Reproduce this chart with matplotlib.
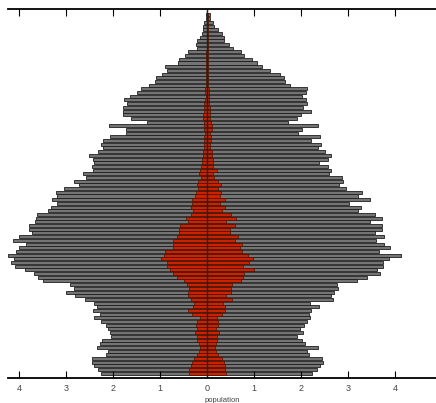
import numpy as np
import matplotlib
matplotlib.use('Agg')
import matplotlib.pyplot as plt

# values listed from the top bar (oldest) down to the bottom bar (age 0)
ages = np.arange(97, -1, -1)

male_total = [
    0.02, 0.03, 0.06, 0.08, 0.10, 0.12, 0.16, 0.21, 0.23, 0.22,
    0.40, 0.47, 0.60, 0.63, 0.89, 0.86, 0.96, 1.09, 1.12, 1.23,
    1.41, 1.49, 1.64, 1.78, 1.70, 1.79, 1.80, 1.80, 1.62, 1.28,
    2.08, 1.72, 1.72, 2.06, 2.21, 2.26, 2.21, 2.32, 2.52, 2.44,
    2.40, 2.45, 2.43, 2.65, 2.59, 2.83, 2.73, 3.04, 3.22, 3.19,
    3.30, 3.20, 3.33, 3.39, 3.63, 3.64, 3.67, 3.80, 3.80, 3.72,
    4.01, 4.14, 3.85, 4.00, 4.06, 4.23, 4.12, 4.18, 4.10, 3.88,
    3.69, 3.60, 3.49, 2.91, 2.83, 3.01, 2.81, 2.61, 2.40, 2.35,
    2.44, 2.28, 2.42, 2.25, 2.15, 2.11, 2.06, 2.05, 2.24, 2.28,
    2.35, 2.12, 2.16, 2.46, 2.46, 2.40, 2.33, 2.26,
]

female_total = [
    0.06, 0.06, 0.12, 0.15, 0.24, 0.31, 0.36, 0.36, 0.47, 0.55,
    0.72, 0.79, 0.96, 1.06, 1.16, 1.33, 1.55, 1.64, 1.65, 1.77,
    2.13, 2.11, 2.02, 2.11, 2.13, 2.03, 2.21, 1.99, 1.92, 1.71,
    2.35, 2.01, 1.94, 2.40, 2.22, 2.43, 2.35, 2.50, 2.63, 2.57,
    2.38, 2.57, 2.63, 2.60, 2.87, 2.89, 2.81, 2.96, 3.30, 3.20,
    3.47, 3.01, 3.27, 3.21, 3.58, 3.71, 3.47, 3.71, 3.73, 3.57,
    3.77, 3.59, 3.77, 3.89, 3.65, 4.12, 3.87, 3.75, 3.74, 3.62,
    3.67, 3.40, 3.18, 2.77, 2.79, 2.70, 2.63, 2.67, 2.18, 2.38,
    2.21, 2.16, 2.19, 2.13, 2.06, 1.98, 2.03, 1.91, 2.01, 2.08,
    2.35, 2.12, 2.16, 2.45, 2.47, 2.40, 2.33, 2.24,
]

male_sub = [
    0.01, 0.01, 0.01, 0.01, 0.01, 0.01, 0.01, 0.01, 0.01, 0.01,
    0.03, 0.02, 0.02, 0.02, 0.03, 0.03, 0.02, 0.03, 0.02, 0.03,
    0.04, 0.04, 0.03, 0.04, 0.06, 0.06, 0.07, 0.09, 0.09, 0.06,
    0.06, 0.06, 0.05, 0.06, 0.07, 0.07, 0.06, 0.09, 0.10, 0.11,
    0.12, 0.14, 0.15, 0.17, 0.14, 0.19, 0.22, 0.19, 0.24, 0.26,
    0.33, 0.33, 0.35, 0.30, 0.35, 0.45, 0.40, 0.57, 0.59, 0.61,
    0.65, 0.72, 0.72, 0.73, 0.89, 0.91, 0.98, 0.86, 0.86, 0.79,
    0.72, 0.65, 0.50, 0.43, 0.38, 0.40, 0.40, 0.34, 0.29, 0.30,
    0.40, 0.33, 0.16, 0.22, 0.23, 0.22, 0.26, 0.22, 0.22, 0.18,
    0.15, 0.18, 0.22, 0.29, 0.33, 0.35, 0.38, 0.38,
]

female_sub = [
    0.01, 0.01, 0.01, 0.01, 0.01, 0.01, 0.01, 0.01, 0.01, 0.01,
    0.02, 0.02, 0.02, 0.02, 0.02, 0.02, 0.02, 0.02, 0.02, 0.02,
    0.03, 0.03, 0.03, 0.03, 0.03, 0.06, 0.06, 0.06, 0.05, 0.08,
    0.10, 0.10, 0.06, 0.08, 0.08, 0.06, 0.06, 0.10, 0.11, 0.12,
    0.13, 0.13, 0.20, 0.13, 0.15, 0.24, 0.29, 0.22, 0.29, 0.28,
    0.38, 0.27, 0.38, 0.31, 0.50, 0.62, 0.41, 0.60, 0.48, 0.48,
    0.66, 0.60, 0.74, 0.70, 0.74, 0.86, 0.98, 0.90, 0.76, 1.00,
    0.78, 0.76, 0.72, 0.52, 0.50, 0.50, 0.41, 0.52, 0.34, 0.38,
    0.38, 0.32, 0.21, 0.22, 0.22, 0.18, 0.25, 0.20, 0.20, 0.18,
    0.16, 0.19, 0.22, 0.31, 0.35, 0.38, 0.38, 0.40,
]

tick_vals = [-4, -3, -2, -1, 0, 1, 2, 3, 4]

plt.rcParams['font.family'] = ['Liberation Sans Narrow', 'Liberation Sans', 'DejaVu Sans']

fig = plt.figure(figsize=(4.36, 4.03), dpi=100)
ax = fig.add_axes([8 / 436, 25 / 403, 428 / 436, 369 / 403])

gray = '#747474'
red = '#cc2200'
edge = '#1e1e1e'
h = 0.82

ax.barh(ages, -np.array(male_total), height=h, color=gray, edgecolor=edge, linewidth=0.6)
ax.barh(ages, female_total, height=h, color=gray, edgecolor=edge, linewidth=0.6)
ax.barh(ages, -np.array(male_sub), height=h, color=red, edgecolor='#4a1200', linewidth=0.5)
ax.barh(ages, female_sub, height=h, color=red, edgecolor='#4a1200', linewidth=0.5)

ax.axvline(0, color='#222222', linewidth=1.0)

ax.set_xlim(-4.24, 4.87)
ax.set_ylim(-1.27, 98.62)

ax.spines['left'].set_visible(False)
ax.spines['right'].set_visible(False)
ax.spines['top'].set_linewidth(1.3)
ax.spines['bottom'].set_linewidth(1.3)

ax.set_yticks([])
ax.set_xticks(tick_vals)
ax.set_xticklabels([str(abs(v)) for v in tick_vals], fontsize=6.5, color='#444444')
ax.tick_params(axis='x', direction='in', length=5, width=0.8, top=True, bottom=True, pad=4)
ax.set_xlabel('population', fontsize=5.5, color='#444444', labelpad=3)

fig.savefig('out.png', dpi=100)
